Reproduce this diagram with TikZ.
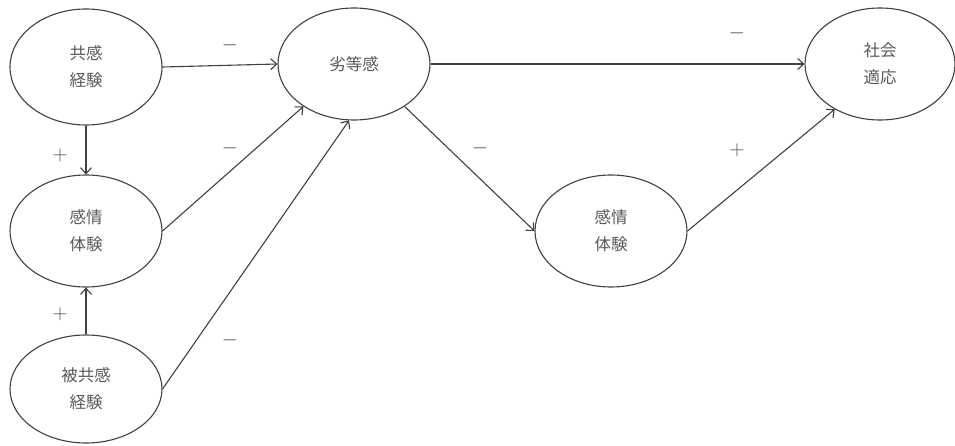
\documentclass[tikz,border=0pt]{standalone}
\usepackage{fontspec}
\newfontfamily\cjk{Noto Sans CJK JP}
\usetikzlibrary{arrows.meta,shapes.geometric}
\begin{document}
\begin{tikzpicture}[x=1pt,y=-1pt,
  var/.style={draw=black!75, line width=1.1pt, ellipse, minimum width=152pt, minimum height=112pt, inner sep=0pt,
    font=\cjk\fontsize{16.5}{27}\selectfont, text=black!65, align=center},
  conn/.style={draw=black!75, line width=1.1pt, -{Straight Barb[length=6pt,width=11pt]}},
  sign/.style={font=\fontsize{20}{20}\selectfont, text=black!70}]
\useasboundingbox (0,0) rectangle (955,446);
\node[var, minimum height=116pt] (kyo) at (86,67) {共感\\経験};
\node[var] (kan1) at (86,231) {感情\\体験};
\node[var, minimum height=108pt] (hi) at (86,389) {被共感\\経験};
\node[var] (retto) at (354,64) {劣等感};
\node[var] (kan2) at (611,231) {感情\\体験};
\node[var, minimum width=150pt] (sha) at (880,64) {社会\\適応};

\draw[conn] (kyo.east) -- (retto.west);
\draw[conn] (kyo.south) -- (kan1.north);
\draw[conn] (hi.north) -- (kan1.south);
\draw[conn] (kan1.east) -- (retto.-140);
\draw[conn] (hi.east) -- (retto.-95);
\draw[conn] (retto.east) -- (sha.west);
\draw[conn] (retto.-40) -- (kan2.west);
\draw[conn] (kan2.east) -- (sha.-135);

\node[sign] (s1) at (230,45) {$-$};
\node[sign] (s2) at (230,148) {$-$};
\node[sign] (s3) at (230,340) {$-$};
\node[sign] (s4) at (60,155) {$+$};
\node[sign] (s5) at (60,314) {$+$};
\node[sign] (s6) at (737,33) {$-$};
\node[sign] (s7) at (480,148) {$-$};
\node[sign] (s8) at (737,150) {$+$};
\end{tikzpicture}
\end{document}
